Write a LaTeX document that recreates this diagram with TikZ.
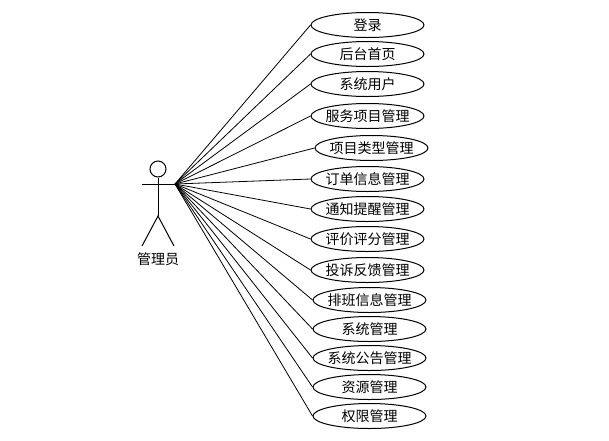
\documentclass[tikz,border=0pt]{standalone}
\usepackage{fontspec}
\setmainfont{Noto Sans CJK SC}
\usetikzlibrary{positioning,shapes.geometric}
\newcommand{\uclabel}[1]{\makebox[0pt]{#1}}
\tikzset{
  usecase/.style={draw,ellipse,line width=0.75pt,minimum width=84.75pt,minimum height=18.75pt,inner sep=0pt,font=\fontsize{10.5pt}{12pt}\selectfont},
  assoc/.style={line width=0.6pt},
  limb/.style={line width=0.75pt}
}
\begin{document}
\begin{tikzpicture}[x=0.75pt,y=-0.75pt]
    \useasboundingbox (0,0) rectangle (609,440);
    % actor
    \node[draw,circle,line width=0.75pt,minimum size=12pt,inner sep=0pt] (head) at (158,169) {};
    \coordinate (hip) at (158,216);
    \coordinate (larm) at (142,184);
    \coordinate (rarm) at (175,184);
    \coordinate (lfoot) at (142,246);
    \coordinate (rfoot) at (174,246);
    \node[font=\fontsize{10.5pt}{12pt}\selectfont] (actor) at (158,259) {管理员};
    \draw[limb] (head)--(hip);
    \draw[limb] (larm)--(rarm);
    \draw[limb] (lfoot)--(hip)--(rfoot);
    % use cases
    \node[usecase] (login) at (367.5,25) {\uclabel{登录}};
    \node[usecase,below=2.25pt of login] (home) {\uclabel{后台首页}};
    \node[usecase,below=3pt of home] (users) {\uclabel{系统用户}};
    \node[usecase,below=4.5pt of users] (service) {\uclabel{服务项目管理}};
    \node[usecase,below=4.5pt of service,xshift=3pt] (stype) {\uclabel{项目类型管理}};
    \node[usecase,below=3.75pt of stype,xshift=-3pt] (order) {\uclabel{订单信息管理}};
    \node[usecase,below=3pt of order] (notice) {\uclabel{通知提醒管理}};
    \node[usecase,below=3pt of notice] (review) {\uclabel{评价评分管理}};
    \node[usecase,below=3.75pt of review] (complain) {\uclabel{投诉反馈管理}};
    \node[usecase,below=3pt of complain,xshift=1.5pt] (shift) {\uclabel{排班信息管理}};
    \node[usecase,below=2.25pt of shift] (sysmgr) {\uclabel{系统管理}};
    \node[usecase,below=2.25pt of sysmgr] (bulletin) {\uclabel{系统公告管理}};
    \node[usecase,below=2.25pt of bulletin] (res) {\uclabel{资源管理}};
    \node[usecase,below=2.25pt of res] (perm) {\uclabel{权限管理}};
    % associations
    \draw[assoc] (rarm)--(login.west);
    \draw[assoc] (rarm)--(home.west);
    \draw[assoc] (rarm)--(users.west);
    \draw[assoc] (rarm)--(service.west);
    \draw[assoc] (rarm)--(stype.west);
    \draw[assoc] (rarm)--(order.west);
    \draw[assoc] (rarm)--(notice.west);
    \draw[assoc] (rarm)--(review.west);
    \draw[assoc] (rarm)--(complain.west);
    \draw[assoc] (rarm)--(shift.west);
    \draw[assoc] (rarm)--(sysmgr.west);
    \draw[assoc] (rarm)--(bulletin.west);
    \draw[assoc] (rarm)--(res.west);
    \draw[assoc] (rarm)--(perm.west);
\end{tikzpicture}
\end{document}
